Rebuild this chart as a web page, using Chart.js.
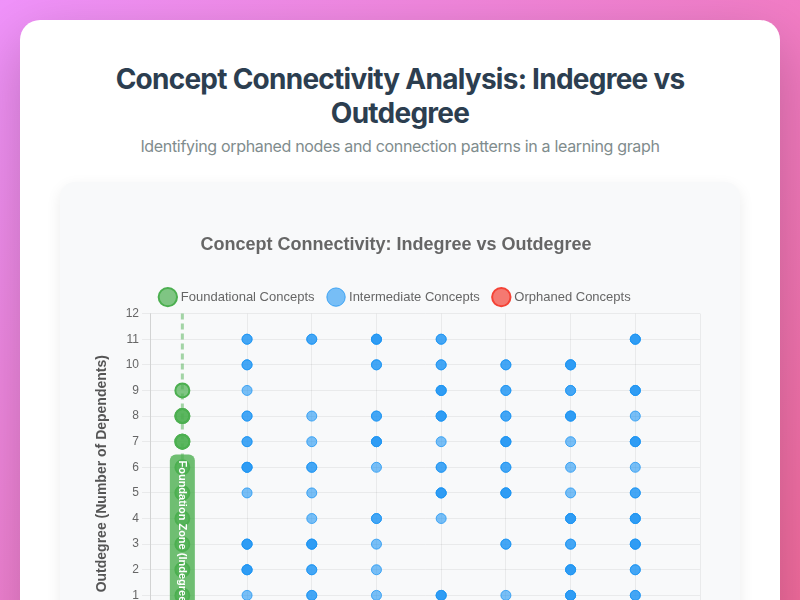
<!DOCTYPE html>
<html lang="en">
<head>
<meta charset="UTF-8">
<title>Concept Connectivity Analysis</title>
<script src="https://cdn.jsdelivr.net/npm/chart.js@4.4.0/dist/chart.umd.min.js"></script>
<style>
    body {
        margin: 0;
        padding: 20px;
        font-family: Inter, Roboto, sans-serif;
        background: linear-gradient(135deg, #f093fb 0%, #f5576c 100%);
        min-height: 1300px;
    }
    .container {
        max-width: 1200px;
        margin: 0 auto;
        background: #fff;
        border-radius: 20px;
        padding: 40px;
        box-shadow: 0 20px 60px rgba(0, 0, 0, 0.22);
    }
    h1 {
        color: #2c3e50;
        font-size: 28px;
        font-weight: 700;
        line-height: 34px;
        letter-spacing: -0.75px;
        text-align: center;
        margin: 2px 0 7px;
    }
    .subtitle {
        color: #7f8c8d;
        font-size: 16px;
        line-height: 1.2;
        letter-spacing: -0.33px;
        text-align: center;
        margin: 0 0 26px;
    }
    .chart-box {
        background: #f8f9fa;
        border-radius: 15px;
        padding: 30px;
        box-shadow: 0 5px 15px rgba(0, 0, 0, 0.08);
    }
    .chart-wrap {
        position: relative;
        height: 475px;
    }
</style>
</head>
<body>
<div class="container">
    <h1>Concept Connectivity Analysis: Indegree vs Outdegree</h1>
    <p class="subtitle">Identifying orphaned nodes and connection patterns in a learning graph</p>
    <div class="chart-box">
        <div class="chart-wrap">
            <canvas id="connectivityChart"></canvas>
        </div>
    </div>
</div>

<script>
// Outdegree of each concept, grouped by indegree (repeats = several concepts on the same spot)
const foundationalOut = [9, 8, 8, 7, 7, 6, 5, 4, 3, 2, 1];       // indegree 0
const indegree1Out = [11, 11, 10, 10, 9, 8, 8, 7, 7, 6, 6, 6, 5, 3, 3, 3, 2, 2, 2, 1];
const indegree2Out = [11, 11, 8, 7, 6, 6, 5, 4, 3, 3, 3, 2, 2, 1, 1];
const indegree3Out = [11, 11, 11, 10, 10, 8, 8, 7, 7, 7, 6, 4, 4, 3, 2, 1];
const indegree4Out = [11, 11, 10, 10, 9, 9, 9, 8, 8, 8, 7, 6, 6, 5, 5, 5, 4, 1, 1, 1];
const indegree5Out = [10, 10, 9, 9, 8, 8, 7, 7, 7, 6, 6, 5, 5, 5, 3, 3, 1];
const indegree6Out = [10, 10, 10, 9, 9, 8, 8, 8, 7, 6, 5, 4, 4, 4, 3, 3, 2, 2, 2, 1, 1, 1];
const indegree7Out = [11, 11, 11, 9, 9, 9, 8, 7, 7, 7, 6, 5, 5, 4, 4, 4, 3, 3, 3, 2, 2, 1, 1];
const orphanedIn = [0];
const orphanedOut = [0];

const zoneLabel = 'Foundation Zone (Indegree = 0)';
const zoneLabelTopValue = 6.5;

// Build scatter points
function column(indegree, outs) {
    return outs.map(o => ({ x: indegree, y: o }));
}

const foundationalPoints = column(0, foundationalOut);
const intermediatePoints = [].concat(
    column(1, indegree1Out),
    column(2, indegree2Out),
    column(3, indegree3Out),
    column(4, indegree4Out),
    column(5, indegree5Out),
    column(6, indegree6Out),
    column(7, indegree7Out)
);
const orphanedPoints = orphanedIn.map((v, i) => ({ x: v, y: orphanedOut[i] }));

// Dashed line + label for the indegree = 0 zone
const foundationZone = {
    id: 'foundationZone',
    afterDatasetsDraw(chart) {
        const { ctx, chartArea } = chart;
        const xs = chart.scales.x;
        const ys = chart.scales.y;
        const px = xs.getPixelForValue(0);

        ctx.save();
        ctx.strokeStyle = 'rgba(76, 175, 80, 0.5)';
        ctx.lineWidth = 3;
        ctx.setLineDash([6, 4]);
        ctx.beginPath();
        ctx.moveTo(px, chartArea.top);
        ctx.lineTo(px, chartArea.bottom);
        ctx.stroke();
        ctx.setLineDash([]);

        ctx.font = "bold 11px 'Helvetica Neue', Helvetica, Arial, sans-serif";
        const len = ctx.measureText(zoneLabel).width + 12;
        const thick = 25;
        const top = ys.getPixelForValue(zoneLabelTopValue);
        ctx.fillStyle = 'rgba(76, 175, 80, 0.8)';
        ctx.beginPath();
        ctx.roundRect(px - thick / 2, top, thick, len, 6);
        ctx.fill();

        ctx.translate(px, top + len / 2);
        ctx.rotate(Math.PI / 2);
        ctx.fillStyle = '#fff';
        ctx.textAlign = 'center';
        ctx.textBaseline = 'middle';
        ctx.fillText(zoneLabel, 0, 0);
        ctx.restore();
    }
};

new Chart(document.getElementById('connectivityChart').getContext('2d'), {
    type: 'scatter',
    data: {
        datasets: [
            {
                label: 'Foundational Concepts',
                data: foundationalPoints,
                backgroundColor: 'rgba(76, 175, 80, 0.7)',
                borderColor: '#4CAF50',
                borderWidth: 2,
                pointRadius: 7
            },
            {
                label: 'Intermediate Concepts',
                data: intermediatePoints,
                backgroundColor: 'rgba(33, 150, 243, 0.6)',
                borderColor: 'rgba(33, 150, 243, 0.8)',
                borderWidth: 1,
                pointRadius: 5
            },
            {
                label: 'Orphaned Concepts',
                data: orphanedPoints,
                backgroundColor: 'rgba(244, 67, 54, 0.7)',
                borderColor: '#F44336',
                borderWidth: 2,
                pointRadius: 8
            }
        ]
    },
    options: {
        responsive: true,
        maintainAspectRatio: false,
        animation: false,
        layout: {
            padding: { right: 8 }
        },
        plugins: {
            title: {
                display: true,
                text: 'Concept Connectivity: Indegree vs Outdegree',
                color: '#666',
                font: { size: 18, weight: 'bold' },
                padding: { top: 22, bottom: 20 }
            },
            legend: {
                labels: {
                    usePointStyle: true,
                    color: '#666',
                    padding: 15,
                    font: { size: 13 }
                }
            },
            tooltip: { enabled: false }
        },
        scales: {
            x: {
                min: -0.5,
                max: 8,
                ticks: { stepSize: 1, color: '#666', font: { size: 12 } },
                grid: { color: 'rgba(0, 0, 0, 0.06)' },
                title: {
                    display: true,
                    text: 'Indegree (Number of Prerequisites)',
                    color: '#555',
                    font: { size: 14, weight: 'bold' }
                }
            },
            y: {
                min: -0.5,
                max: 12,
                afterFit: scale => { scale.width = 60; },
                ticks: { stepSize: 1, color: '#666', font: { size: 12 } },
                grid: { color: 'rgba(0, 0, 0, 0.06)' },
                title: {
                    display: true,
                    text: 'Outdegree (Number of Dependents)',
                    color: '#555',
                    font: { size: 14, weight: 'bold' }
                }
            }
        }
    },
    plugins: [foundationZone]
});
</script>
</body>
</html>
